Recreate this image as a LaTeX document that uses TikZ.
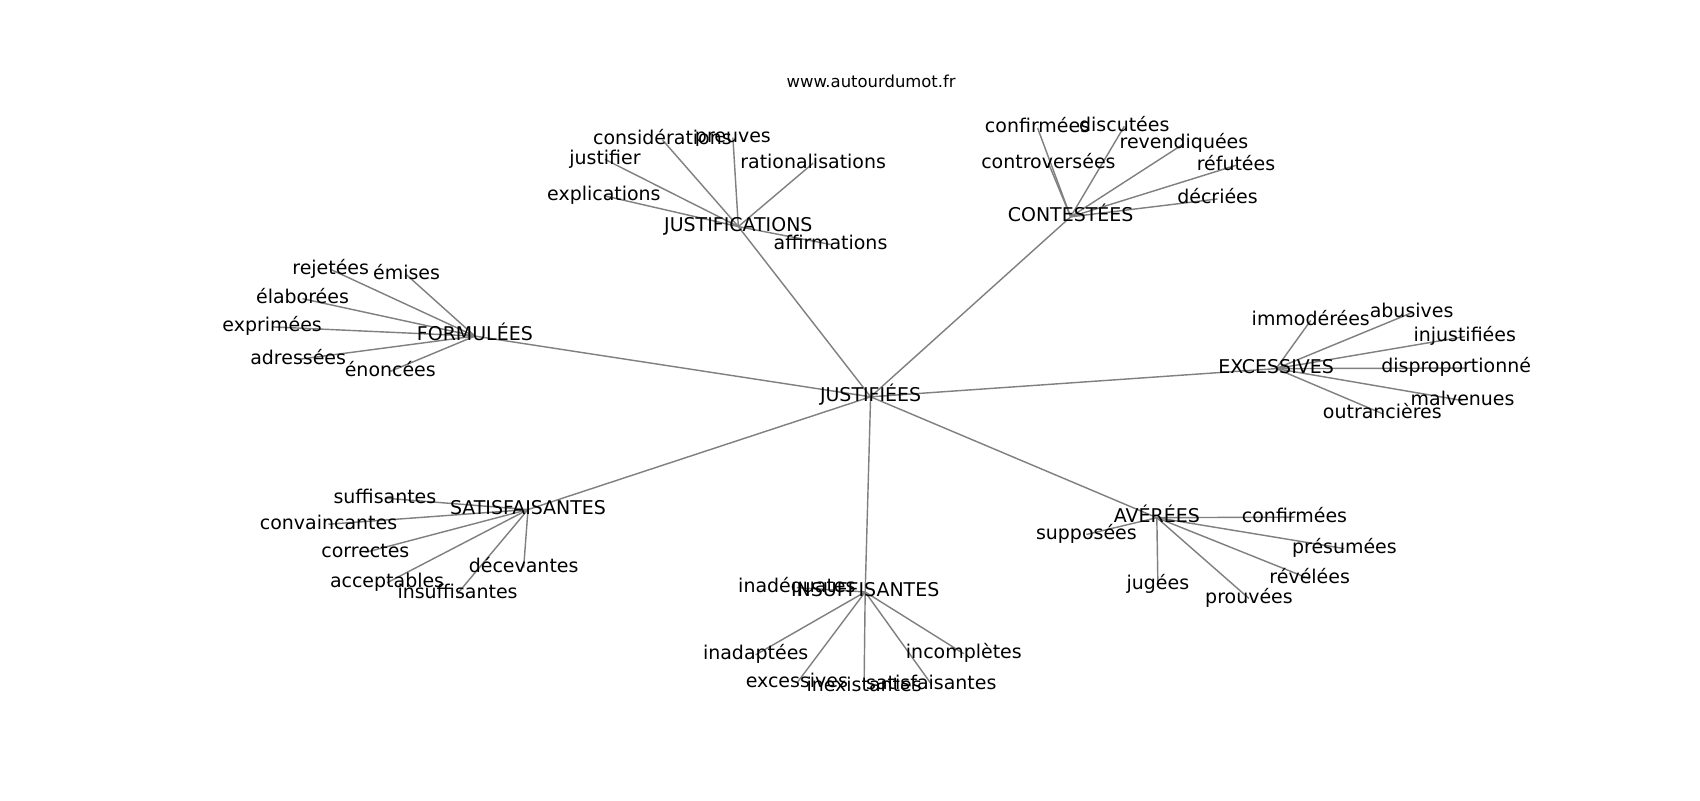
\documentclass[tikz,border=0pt]{standalone}
\usepackage{fontspec}
\setmainfont{DejaVu Sans}
\usetikzlibrary{backgrounds}

\begin{document}
\begin{tikzpicture}
[x=0.686pt, y=-0.686pt,
word/.style ={inner sep=0pt, font=\fontsize{12}{14}\selectfont,
text height=9.1pt, text depth=2.9pt},
site/.style ={inner sep=0pt, anchor=base, font=\fontsize{10.4}{12}\selectfont},
line/.style ={draw=gray, line width=0.9pt}]
\useasboundingbox (0,0) rectangle (1568,737.9);
\node [site]                (web)   at (803.5, 81)          {www.autourdumot.fr};

\begin{scope}
\clip (196,88.6) rectangle (1411,656.8);
\node [word]                (jus)   at (803, 366)           {JUSTIFIÉES};
\node [word]                (jfc)   at (681, 209)           {JUSTIFICATIONS};
\node [word]                (con)   at (987.5, 200)         {CONTESTÉES};
\node [word]                (frm)   at (438, 310)           {FORMULÉES};
\node [word]                (exc)   at (1177, 340)          {EXCESSIVES};
\node [word]                (sat)   at (487, 470)           {SATISFAISANTES};
\node [word]                (ins)   at (798, 546)           {INSUFFISANTES};
\node [word]                (ave)   at (1067, 477.5)        {AVÉRÉES};

\node [word]                (cns)   at (611, 129)           {considérations};
\node [word]                (pre)   at (676, 127)           {preuves};
\node [word]                (jsf)   at (558, 147)           {justifier};
\node [word]                (rat)   at (750, 150.5)         {rationalisations};
\node [word]                (exp)   at (557, 180.5)         {explications};
\node [word]                (aff)   at (766, 225.5)         {affirmations};

\node [word]                (cfm)   at (957, 118)           {confirmées};
\node [word]                (dis)   at (1037, 116.5)        {discutées};
\node [word]                (rev)   at (1092, 132.5)        {revendiquées};
\node [word]                (ctv)   at (967, 150.5)         {controversées};
\node [word]                (ref)   at (1140, 152.5)        {réfutées};
\node [word]                (dec)   at (1123, 183.5)        {décriées};

\node [word]                (rej)   at (305, 248.5)         {rejetées};
\node [word]                (emi)   at (375, 253.5)         {émises};
\node [word]                (ela)   at (279, 275.5)         {élaborées};
\node [word]                (epr)   at (251, 301.5)         {exprimées};
\node [word]                (adr)   at (275, 331.5)         {adressées};
\node [word]                (eno)   at (360, 342.5)         {énoncées};

\node [word]                (imm)   at (1209, 295.5)        {immodérées};
\node [word]                (abu)   at (1302, 288.5)        {abusives};
\node [word]                (inj)   at (1351, 310.5)        {injustifiées};
\node [word]                (dsp)   at (1353, 339.5)        {disproportionnées};
\node [word]                (mal)   at (1349, 369.5)        {malvenues};
\node [word]                (out)   at (1275, 381.5)        {outrancières};

\node [word]                (suf)   at (355, 459.5)         {suffisantes};
\node [word]                (cvc)   at (303, 483.5)         {convaincantes};
\node [word]                (cor)   at (337, 509.5)         {correctes};
\node [word]                (acc)   at (357, 537.5)         {acceptables};
\node [word]                (isf)   at (422, 547.5)         {insuffisantes};
\node [word]                (dcv)   at (483, 523.5)         {décevantes};

\node [word]                (inq)   at (735, 542)           {inadéquates};
\node [word]                (inp)   at (697, 604)           {inadaptées};
\node [word]                (exs)   at (735, 630)           {excessives};
\node [word]                (inx)   at (797, 633)           {inexistantes};
\node [word]                (sts)   at (859, 631)           {satisfaisantes};
\node [word]                (inc)   at (889, 603)           {incomplètes};

\node [word]                (cfa)   at (1194, 477)          {confirmées};
\node [word]                (sup)   at (1002, 493)          {supposées};
\node [word]                (prs)   at (1240, 506)          {présumées};
\node [word]                (jug)   at (1068, 539)          {jugées};
\node [word]                (rvl)   at (1208, 534)          {révélées};
\node [word]                (prv)   at (1152, 552)          {prouvées};
\end{scope}

\begin{scope}[on background layer]
\fill [white] (0,0) rectangle (1568,737.9);
\draw  [line] (jus.center) to (jfc.center);
\draw  [line] (jus.center) to (con.center);
\draw  [line] (jus.center) to (frm.center);
\draw  [line] (jus.center) to (exc.center);
\draw  [line] (jus.center) to (sat.center);
\draw  [line] (jus.center) to (ins.center);
\draw  [line] (jus.center) to (ave.center);

\draw  [line] (jfc.center) to (cns.center);
\draw  [line] (jfc.center) to (pre.center);
\draw  [line] (jfc.center) to (jsf.center);
\draw  [line] (jfc.center) to (rat.center);
\draw  [line] (jfc.center) to (exp.center);
\draw  [line] (jfc.center) to (aff.center);

\draw  [line] (con.center) to (cfm.center);
\draw  [line] (con.center) to (dis.center);
\draw  [line] (con.center) to (rev.center);
\draw  [line] (con.center) to (ctv.center);
\draw  [line] (con.center) to (ref.center);
\draw  [line] (con.center) to (dec.center);

\draw  [line] (frm.center) to (rej.center);
\draw  [line] (frm.center) to (emi.center);
\draw  [line] (frm.center) to (ela.center);
\draw  [line] (frm.center) to (epr.center);
\draw  [line] (frm.center) to (adr.center);
\draw  [line] (frm.center) to (eno.center);

\draw  [line] (exc.center) to (imm.center);
\draw  [line] (exc.center) to (abu.center);
\draw  [line] (exc.center) to (inj.center);
\draw  [line] (exc.center) to (dsp.center);
\draw  [line] (exc.center) to (mal.center);
\draw  [line] (exc.center) to (out.center);

\draw  [line] (sat.center) to (suf.center);
\draw  [line] (sat.center) to (cvc.center);
\draw  [line] (sat.center) to (cor.center);
\draw  [line] (sat.center) to (acc.center);
\draw  [line] (sat.center) to (isf.center);
\draw  [line] (sat.center) to (dcv.center);

\draw  [line] (ins.center) to (inq.center);
\draw  [line] (ins.center) to (inp.center);
\draw  [line] (ins.center) to (exs.center);
\draw  [line] (ins.center) to (inx.center);
\draw  [line] (ins.center) to (sts.center);
\draw  [line] (ins.center) to (inc.center);

\draw  [line] (ave.center) to (cfa.center);
\draw  [line] (ave.center) to (sup.center);
\draw  [line] (ave.center) to (prs.center);
\draw  [line] (ave.center) to (jug.center);
\draw  [line] (ave.center) to (rvl.center);
\draw  [line] (ave.center) to (prv.center);
\end{scope}
\end{tikzpicture}
\end{document}
